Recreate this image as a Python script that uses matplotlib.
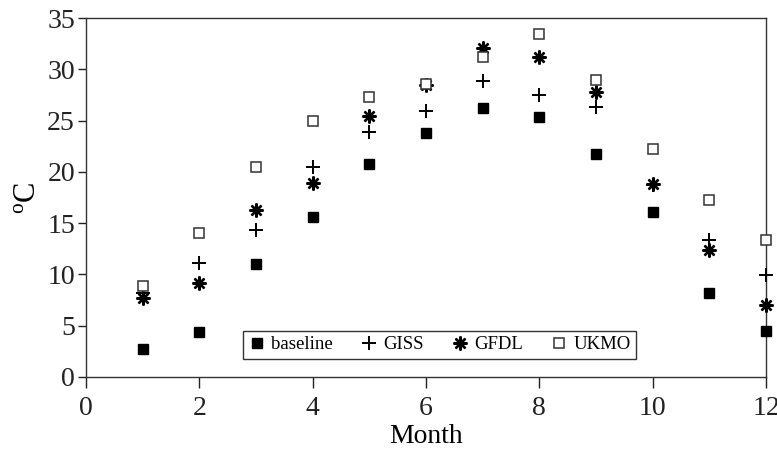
import matplotlib
matplotlib.use("Agg")
import matplotlib.pyplot as plt

months = [1, 2, 3, 4, 5, 6, 7, 8, 9, 10, 11, 12]
baseline = [2.7, 4.4, 11.0, 15.6, 20.8, 23.8, 26.2, 25.3, 21.7, 16.1, 8.2, 4.5]
giss = [8.2, 11.1, 14.3, 20.5, 23.9, 25.9, 28.9, 27.5, 26.3, 18.7, 13.4, 9.9]
gfdl = [7.7, 9.2, 16.3, 18.9, 25.4, 28.5, 32.1, 31.2, 27.8, 18.8, 12.4, 7.0]
ukmo = [8.9, 14.0, 20.5, 25.0, 27.3, 28.6, 31.2, 33.4, 29.0, 22.2, 17.3, 13.4]
xticks = [0, 2, 4, 6, 8, 10, 12]
yticks = [0, 5, 10, 15, 20, 25, 30, 35]

plt.rcParams['font.family'] = ['Liberation Serif', 'DejaVu Serif']
plt.rcParams['mathtext.fontset'] = 'custom'
plt.rcParams['mathtext.rm'] = 'Liberation Serif'

fig = plt.figure(figsize=(7.77, 4.51), dpi=100)
ax = fig.add_axes([86/777, 74/451, 680/777, 359/451])

kw = dict(linestyle='none', clip_on=False, zorder=3)
ax.plot(months, baseline, marker='s', ms=7.5, mfc='black', mec='black', label='baseline', **kw)
ax.plot(months, giss, marker='+', ms=10.5, mew=1.4, color='black', label='GISS', **kw)
ax.plot(months, gfdl, marker=(8, 2, 0), ms=10, mew=1.7, color='black', label='GFDL', **kw)
ax.plot(months, ukmo, marker='s', ms=7.5, mfc='white', mec='#333333', mew=1.1, label='UKMO', **kw)

ax.set_xlim(0, 12)
ax.set_ylim(0, 35)
ax.set_xticks(xticks)
ax.set_yticks(yticks)
ax.tick_params(axis='both', direction='out', labelsize=20, colors='#222222', width=1)
ax.tick_params(axis='x', length=8, pad=6)
ax.tick_params(axis='y', length=6, pad=2)
for s in ax.spines.values():
    s.set_linewidth(1.0)
    s.set_color('#333333')

ax.set_xlabel('Month', fontsize=20, labelpad=2)
ax.set_ylabel('$\\mathrm{^{o}C}$', fontsize=22, labelpad=4)

leg = ax.legend(loc='lower left', bbox_to_anchor=(0.231, 0.05, 0.578, 0.084), mode='expand',
                ncol=4, frameon=True, fancybox=False, fontsize=13.5, handlelength=0.9,
                handletextpad=0.3, columnspacing=1.0, borderpad=0.3, borderaxespad=0)
leg.get_frame().set_edgecolor('black')
leg.get_frame().set_linewidth(1.0)

fig.savefig('out.png', dpi=100)
